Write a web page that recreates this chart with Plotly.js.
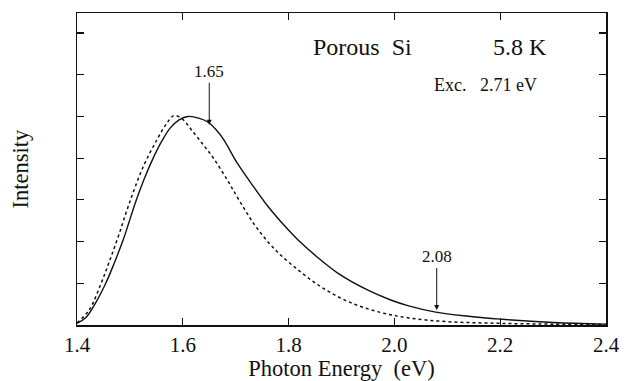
<!DOCTYPE html>
<html>
<head>
<meta charset="utf-8">
<script src="https://cdn.plot.ly/plotly-3.0.1.min.js"></script>
<style>html,body{margin:0;padding:0;background:#fff;}#chart{width:629px;height:381px;}</style>
</head>
<body>
<div id="chart"></div>
<script>
// Solid curve
const solidEnergy = [1.40,1.417,1.436,1.455,1.470,1.487,1.498,1.510,1.527,1.544,1.560,1.576,1.593,1.610,1.630,1.648,1.663,1.677,1.703,1.728,1.760,1.798,1.817,1.855,1.898,1.949,1.993,2.027,2.078,2.14,2.20,2.30,2.40];
const solidIntensity = [0.04,0.18,0.55,1.02,1.47,2.03,2.45,2.92,3.50,4.00,4.40,4.72,4.92,5.00,4.96,4.86,4.68,4.45,3.88,3.42,2.86,2.30,2.05,1.62,1.20,0.84,0.60,0.46,0.31,0.21,0.14,0.06,0.02];
// Dotted curve
const dotEnergy = [1.40,1.423,1.445,1.461,1.478,1.497,1.525,1.551,1.570,1.583,1.598,1.620,1.640,1.658,1.684,1.707,1.737,1.775,1.822,1.863,1.911,1.968,2.027,2.10,2.20,2.30,2.40];
const dotIntensity = [0.05,0.36,0.98,1.52,2.12,2.85,3.79,4.44,4.84,5.02,4.95,4.62,4.30,4.00,3.48,2.98,2.38,1.80,1.28,0.90,0.57,0.32,0.17,0.08,0.04,0.02,0.01];
// Tick labels
const xTickVals = [1.4,1.6,1.8,2.0,2.2,2.4];
const xTickText = ["1.4","1.6","1.8","2.0","2.2","2.4"];
const yTickVals = [1,2,3,4,5,6,7];
// Marked energies
const markE = [1.65, 2.08];
const markI = [4.8, 0.36];
const markLabel = ["1.65", "2.08"];

const font = "'Liberation Serif', 'Times New Roman', serif";

const traces = [
  {x: solidEnergy, y: solidIntensity, mode: 'lines', line: {color: '#111', width: 1.4, shape: 'spline', smoothing: 1}, hoverinfo: 'skip'},
  {x: dotEnergy, y: dotIntensity, mode: 'lines', line: {color: '#111', width: 1.5, dash: 'dot', shape: 'spline', smoothing: 1}, hoverinfo: 'skip'}
];

const annotations = markE.map((e, i) => ({
  x: e, y: markI[i], xref: 'x', yref: 'y', text: markLabel[i],
  showarrow: true, arrowhead: 2, arrowsize: 1, arrowwidth: 1, arrowcolor: '#111',
  ax: 0, ay: -53, font: {family: font, size: 17, color: '#111'}
}));
annotations.push(
  {x: 1.94, y: 6.67, xref: 'x', yref: 'y', text: 'Porous&nbsp; Si', showarrow: false, font: {family: font, size: 24, color: '#111'}},
  {x: 2.237, y: 6.67, xref: 'x', yref: 'y', text: '5.8 K', showarrow: false, font: {family: font, size: 24, color: '#111'}},
  {x: 2.173, y: 5.76, xref: 'x', yref: 'y', text: 'Exc.&nbsp;&nbsp; 2.71 eV', showarrow: false, font: {family: font, size: 18, color: '#111'}}
);

const layout = {
  width: 629, height: 381,
  margin: {l: 77, r: 23, t: 13, b: 56},
  paper_bgcolor: '#fff', plot_bgcolor: '#fff',
  showlegend: false,
  font: {family: font, color: '#111'},
  xaxis: {
    range: [1.4, 2.4], tickvals: xTickVals, ticktext: xTickText,
    ticks: 'inside', ticklen: 7, tickwidth: 1.2, tickcolor: '#111',
    showline: true, linecolor: '#111', linewidth: 1.5, mirror: 'ticks',
    showgrid: false, zeroline: false,
    tickfont: {family: font, size: 21, color: '#111'},
    title: {text: 'Photon Energy&nbsp; (eV)', font: {family: font, size: 22.5, color: '#111'}, standoff: 5}
  },
  yaxis: {
    range: [0, 7.48], tickvals: yTickVals, showticklabels: false,
    ticks: 'inside', ticklen: 7, tickwidth: 1.2, tickcolor: '#111',
    showline: true, linecolor: '#111', linewidth: 1.5, mirror: 'ticks',
    showgrid: false, zeroline: false,
    title: {text: 'Intensity', font: {family: font, size: 22.5, color: '#111'}, standoff: 40}
  },
  annotations: annotations
};

Plotly.newPlot('chart', traces, layout, {displayModeBar: false, staticPlot: true});
</script>
</body>
</html>
